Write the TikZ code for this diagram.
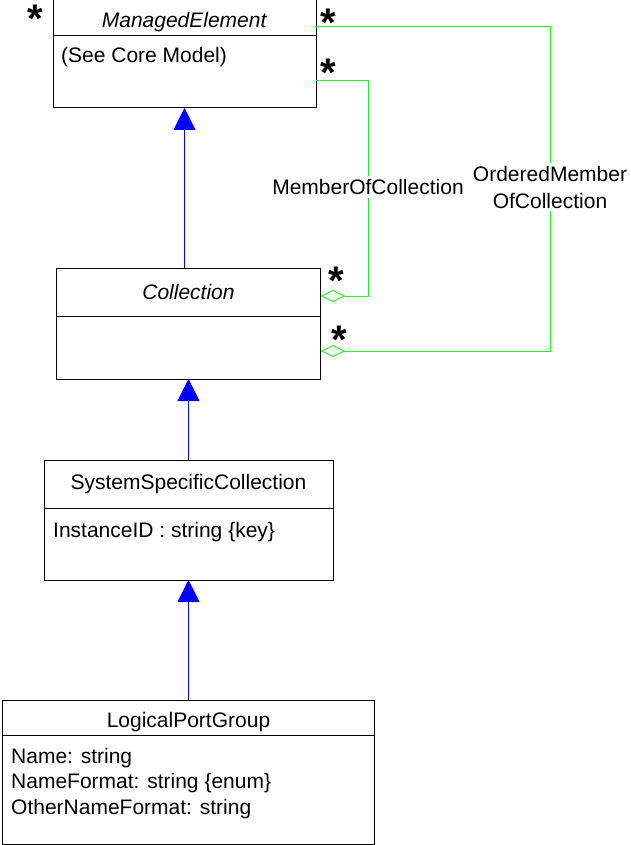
\documentclass[tikz,border=0pt]{standalone}
\usepackage{fontspec}
\setmainfont{Liberation Sans}
\usetikzlibrary{arrows.meta, positioning}
\definecolor{UMLBlue}{RGB}{0,0,255}
\definecolor{UMLGreen}{RGB}{40,245,40}

\begin{document}
\begin{tikzpicture}[x=1pt, y=-1pt,
	cls/.style={rectangle, draw=black, line width=1pt, inner sep=0pt, outer sep=0pt, font=\fontsize{21}{25}\selectfont},
	lowtitle/.style={text height=22pt, text depth=2pt},
	attr/.style={anchor=base west, inner sep=0pt, align=left, font=\fontsize{21}{25.5}\selectfont},
	inherit/.style={draw=UMLBlue, line width=1pt, -{Triangle[width=22pt, length=22pt]}},
	agg/.style={draw=UMLGreen, line width=1pt, {Diamond[open, width=12pt, length=25pt]}-},
	assoc/.style={draw=UMLGreen, line width=1pt},
	assoclbl/.style={align=center, inner sep=3pt, font=\fontsize{21}{27}\selectfont},
	mult/.style={inner sep=0pt, font=\fontsize{40}{40}\bfseries\selectfont}]
	\useasboundingbox (0,0) rectangle (631,845);
	% classes
	\node[cls, lowtitle, minimum width=263pt, minimum height=36pt] (meT) at (184.5,18) {\textit{ManagedElement}};
	\node[cls, minimum width=263pt, minimum height=72pt, below=0pt of meT] (meB) {};
	\node[attr] (meA) at (61,63) {(See Core Model)};
	\node[cls, minimum width=264pt, minimum height=48pt] (colT) at (188.5,292) {\textit{Collection}};
	\node[cls, minimum width=264pt, minimum height=63pt, below=0pt of colT] (colB) {};
	\node[cls, minimum width=289pt, minimum height=48pt] (sscT) at (188.5,484) {SystemSpecificCollection};
	\node[cls, minimum width=289pt, minimum height=72pt, below=0pt of sscT] (sscB) {};
	\node[attr] (sscA) at (53,537) {InstanceID : string \{key\}};
	\node[cls, lowtitle, minimum width=372pt, minimum height=35pt] (lpgT) at (188.5,717.5) {LogicalPortGroup};
	\node[cls, minimum width=372pt, minimum height=109pt, below=0pt of lpgT] (lpgB) {};
	\node[attr] (lpgA) at (11,814) {Name: string\\NameFormat: string \{enum\}\\OtherNameFormat: string};
	% inheritance
	\draw[inherit] (colT.north -| meB.south) -- (meB.south);
	\draw[inherit] (sscT.north -| colB.south) -- (colB.south);
	\draw[inherit] (lpgT.north) -- (lpgT.north |- sscB.south);
	% associations
	\node[assoclbl] (memLbl) at (368,187) {MemberOfCollection};
	\node[assoclbl] (ordLbl) at (550,187) {OrderedMember\\OfCollection};
	\draw[assoc] ([yshift=-9pt]meB.east) -| (memLbl.north);
	\draw[agg] ([yshift=-4pt]colT.east) -| (memLbl.south);
	\draw[assoc] ([yshift=-9pt]meT.east) -| (ordLbl.north);
	\draw[agg] ([yshift=-3.5pt]colB.east) -| (ordLbl.south);
	% multiplicities
	\node[mult] (m1) at (35,19) {*};
	\node[mult] (m2) at (328,23) {*};
	\node[mult] (m3) at (328,73) {*};
	\node[mult] (m4) at (336,281) {*};
	\node[mult] (m5) at (339,340) {*};
\end{tikzpicture}
\end{document}
